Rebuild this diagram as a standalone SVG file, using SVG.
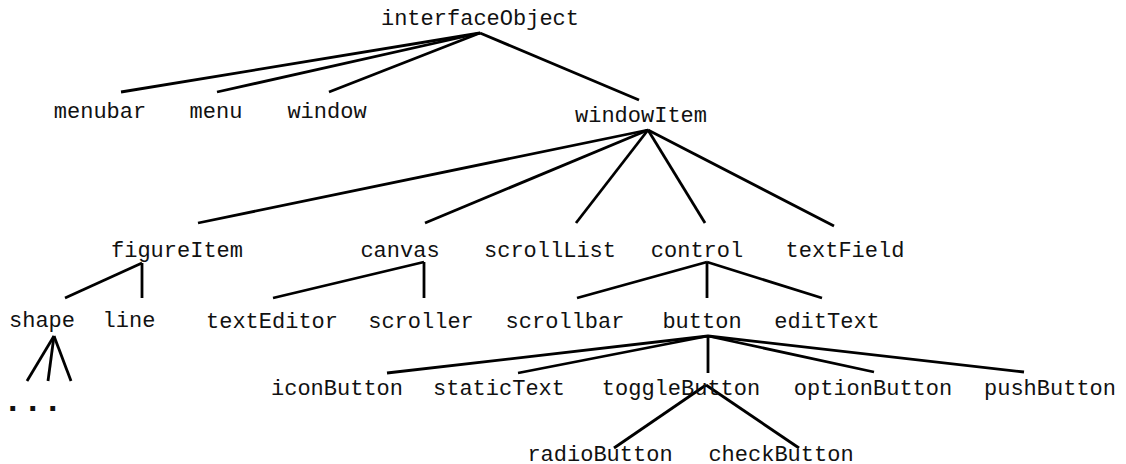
<svg xmlns="http://www.w3.org/2000/svg" width="1126" height="464" viewBox="0 0 1126 464">
<style>
text{font-family:"Liberation Mono","Courier New",monospace;font-size:22px;fill:#111;text-anchor:middle}
.e line{stroke:#000;stroke-width:2.8;stroke-linecap:butt}
.dots{font-family:"Liberation Sans",Arial,sans-serif;font-weight:bold;font-size:34px;letter-spacing:10.5px;text-anchor:start}
</style>
<rect width="1126" height="464" fill="#fff"/>
<g class="e" id="connectors">
<line x1="480" y1="33" x2="121" y2="92"/>
<line x1="480" y1="33" x2="217" y2="92"/>
<line x1="480" y1="33" x2="329" y2="92"/>
<line x1="480" y1="33" x2="639" y2="100"/>
<line x1="648" y1="130" x2="198" y2="223"/>
<line x1="648" y1="130" x2="425" y2="223"/>
<line x1="648" y1="130" x2="576" y2="223"/>
<line x1="648" y1="130" x2="705" y2="223"/>
<line x1="648" y1="130" x2="834" y2="226"/>
<line x1="142" y1="263" x2="65" y2="298"/>
<line x1="142" y1="263" x2="142" y2="298"/>
<line x1="424" y1="262" x2="273" y2="298"/>
<line x1="424" y1="262" x2="424" y2="298"/>
<line x1="707" y1="262" x2="577" y2="298"/>
<line x1="707" y1="262" x2="707" y2="298"/>
<line x1="707" y1="262" x2="822" y2="298"/>
<line x1="708" y1="336" x2="387" y2="373"/>
<line x1="708" y1="336" x2="518" y2="373"/>
<line x1="708" y1="336" x2="708" y2="373"/>
<line x1="708" y1="336" x2="874" y2="372"/>
<line x1="708" y1="336" x2="1024" y2="372"/>
<line x1="706" y1="385" x2="614" y2="448"/>
<line x1="706" y1="385" x2="799" y2="448"/>
<line x1="54" y1="336" x2="27" y2="381"/>
<line x1="54" y1="336" x2="48" y2="381"/>
<line x1="54" y1="336" x2="71" y2="381"/>
</g>
<g id="interfaceObject"><text x="480" y="25">interfaceObject</text></g>
<g id="menubar"><text x="100" y="118">menubar</text></g>
<g id="menu"><text x="216" y="118">menu</text></g>
<g id="window"><text x="327" y="118">window</text></g>
<g id="windowItem"><text x="641" y="122">windowItem</text></g>
<g id="figureItem"><text x="177" y="257">figureItem</text></g>
<g id="canvas"><text x="400" y="257">canvas</text></g>
<g id="scrollList"><text x="550" y="257">scrollList</text></g>
<g id="control"><text x="697" y="257">control</text></g>
<g id="textField"><text x="845" y="257">textField</text></g>
<g id="shape"><text x="42" y="327">shape</text></g>
<g id="line"><text x="129" y="327">line</text></g>
<g id="textEditor"><text x="272" y="328">textEditor</text></g>
<g id="scroller"><text x="421" y="328">scroller</text></g>
<g id="scrollbar"><text x="565" y="328">scrollbar</text></g>
<g id="button"><text x="702" y="328">button</text></g>
<g id="editText"><text x="827" y="328">editText</text></g>
<g id="iconButton"><text x="337" y="395">iconButton</text></g>
<g id="staticText"><text x="499" y="395">staticText</text></g>
<g id="toggleButton"><text x="681" y="395">toggleButton</text></g>
<g id="optionButton"><text x="873" y="395">optionButton</text></g>
<g id="pushButton"><text x="1050" y="395">pushButton</text></g>
<g id="radioButton"><text x="600" y="461">radioButton</text></g>
<g id="checkButton"><text x="781" y="461">checkButton</text></g>
<g id="more"><text class="dots" x="8" y="411">...</text></g>
</svg>
